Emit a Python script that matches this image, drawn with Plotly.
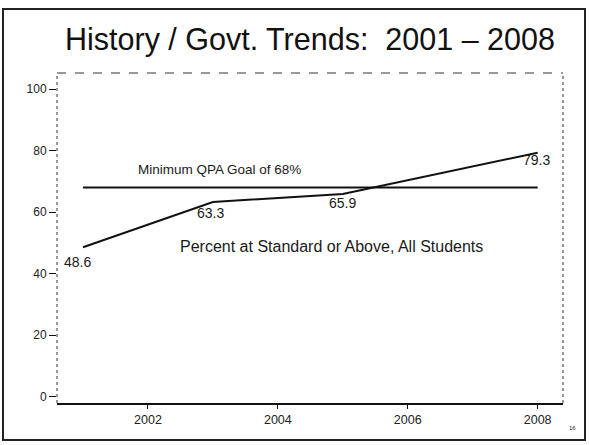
import plotly.graph_objects as go

years = [2001, 2003, 2005, 2008]
percent = [48.6, 63.3, 65.9, 79.3]
goal_years = [2001, 2008]
goal_values = [68, 68]
y_ticks = [0, 20, 40, 60, 80, 100]
x_ticks = [2002, 2004, 2006, 2008]

W, H = 589, 445
x0p, x1p = 57 / W, 563 / W
y0p, y1p = 1 - 403 / H, 1 - 73 / H

fig = go.Figure()
fig.add_trace(go.Scatter(x=goal_years, y=goal_values, mode="lines",
                         line=dict(color="#111", width=2), hoverinfo="skip"))
fig.add_trace(go.Scatter(x=years, y=percent, mode="lines",
                         line=dict(color="#111", width=2), hoverinfo="skip"))

font = "Liberation Sans, Arial, sans-serif"
label_pos = [(-0.08, -4.8), (-0.03, -3.6), (0.0, -2.9), (-0.02, -2.3)]
for (xv, yv), (dx, dy) in zip(zip(years, percent), label_pos):
    fig.add_annotation(x=xv + dx, y=yv + dy, text=f"{yv:.1f}", showarrow=False,
                       yanchor="middle", font=dict(family=font, size=14, color="#1a1a1a"))

fig.add_annotation(x=2003.1, y=74, text="Minimum QPA Goal of 68%", showarrow=False,
                   yanchor="middle", font=dict(family=font, size=13.5, color="#1a1a1a"))
fig.add_annotation(x=2004.82, y=48.7, text="Percent at Standard or Above, All Students",
                   showarrow=False, yanchor="middle",
                   font=dict(family=font, size=16, color="#1a1a1a"))

fig.add_annotation(x=310 / W, y=1 - 39 / H, xref="paper", yref="paper",
                   text="History / Govt. Trends:  2001 – 2008", showarrow=False,
                   yanchor="middle", xanchor="center",
                   font=dict(family=font, size=30.5, color="#111"))
fig.add_annotation(x=578 / W, y=1 - 428 / H, xref="paper", yref="paper",
                   text="16", showarrow=False, yanchor="middle",
                   font=dict(family=font, size=6, color="#222"))

shapes = [
    # outer slide frame
    dict(type="rect", xref="paper", yref="paper", x0=3 / W, x1=585 / W,
         y0=1 - 440 / H, y1=1 - 9 / H, line=dict(color="#222", width=2)),
    # dashed plot box
    dict(type="line", xref="paper", yref="paper", x0=x0p, x1=x1p, y0=y1p, y1=y1p,
         line=dict(color="#333", width=1, dash="dash")),
    dict(type="line", xref="paper", yref="paper", x0=x1p, x1=x1p, y0=y0p, y1=y1p,
         line=dict(color="#333", width=1, dash="dot")),
    dict(type="line", xref="paper", yref="paper", x0=x0p, x1=x0p, y0=y0p, y1=y1p,
         line=dict(color="#333", width=1, dash="dot")),
]

fig.update_layout(
    width=W, height=H, margin=dict(l=0, r=0, t=0, b=0),
    paper_bgcolor="white", plot_bgcolor="white", showlegend=False,
    shapes=shapes,
    xaxis=dict(domain=[x0p, x1p], range=[2000.6, 2008.39], tickvals=x_ticks,
               ticktext=[str(t) for t in x_ticks], showgrid=False, zeroline=False,
               showline=True, linecolor="#111", linewidth=1.5, ticks="outside",
               ticklen=4, tickcolor="#111",
               tickfont=dict(family=font, size=12.5, color="#222")),
    yaxis=dict(domain=[y0p, y1p], range=[-2, 105.2], tickvals=y_ticks,
               showgrid=False, zeroline=False, showline=False, ticks="outside",
               ticklen=7, tickcolor="#111",
               tickfont=dict(family=font, size=12, color="#222")),
)
fig.write_html("out.html", config={"displayModeBar": False},
               post_script="document.body.style.margin='0';document.body.style.overflow='hidden';")
